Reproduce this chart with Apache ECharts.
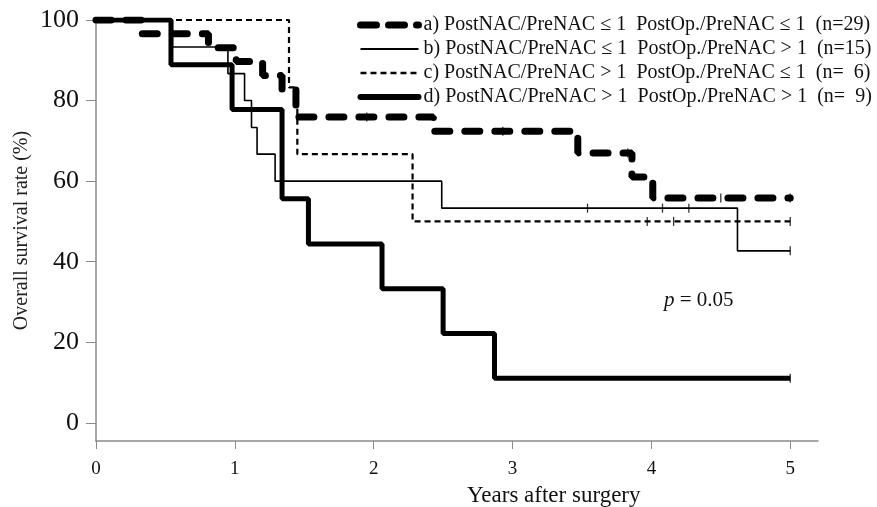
<!DOCTYPE html>
<html>
<head>
<meta charset="utf-8">
<script src="https://cdn.jsdelivr.net/npm/echarts@6/dist/echarts.min.js"></script>
<style>html,body{margin:0;padding:0;background:#fff}#c{width:877px;height:507px}</style>
</head>
<body>
<div id="c"></div>
<script>
// Kaplan-Meier step data (years, survival %)
const namesAll = [
  'a) PostNAC/PreNAC \u2264 1  PostOp./PreNAC \u2264 1  (n=29)',
  'b) PostNAC/PreNAC \u2264 1  PostOp./PreNAC > 1  (n=15)',
  'c) PostNAC/PreNAC > 1  PostOp./PreNAC \u2264 1  (n=  6)',
  'd) PostNAC/PreNAC > 1  PostOp./PreNAC > 1  (n=  9)'
];
const tA = [0, 0.33, 0.81, 1.01, 1.20, 1.34, 1.44, 2.43, 3.47, 3.86, 4.01, 5.0];
const sA = [100, 96.6, 93.1, 89.7, 86.2, 82.8, 75.9, 72.4, 67.0, 61.0, 55.8, 55.8];
const tB = [0, 0.55, 0.95, 1.07, 1.12, 1.16, 1.29, 2.49, 4.62, 5.0];
const sB = [100, 93.3, 86.7, 80.0, 73.3, 66.7, 60.0, 53.3, 42.7, 42.7];
const tC = [0, 1.39, 1.45, 2.28, 5.0];
const sC = [100, 83.3, 66.7, 50.0, 50.0];
const tD = [0, 0.54, 0.98, 1.34, 1.53, 2.06, 2.50, 2.87, 5.0];
const sD = [100, 88.9, 77.8, 55.6, 44.4, 33.3, 22.2, 11.1, 11.1];
// censored observations
const cAt = [1.95, 2.93, 3.83, 4.50, 5.0];
const cAs = [75.9, 72.4, 67.0, 55.8, 55.8];
const cBt = [3.54, 4.08, 4.27, 5.0];
const cBs = [53.3, 53.3, 53.3, 42.7];
const cCt = [3.97, 4.16, 5.0];
const cCs = [50.0, 50.0, 50.0];
const cDt = [5.0];
const cDs = [11.1];
const xTicks = [0, 1, 2, 3, 4, 5];
const yTicks = [0, 20, 40, 60, 80, 100];

const zip = (t, s) => t.map((v, i) => [v, s[i]]);
const FONT = 'Liberation Serif';

const lineStyles = [
  {color: '#000', width: 7, type: [15, 15], cap: 'round'},
  {color: '#000', width: 1.6, type: 'solid'},
  {color: '#000', width: 2.2, type: [6, 4]},
  {color: '#000', width: 5, type: 'solid'}
];
const legendLines = [
  {color: '#000', width: 7, type: [16, 12], cap: 'round', opacity: 1},
  {color: '#000', width: 2, type: 'solid', opacity: 1},
  {color: '#000', width: 2.5, type: [6, 4], opacity: 1},
  {color: '#000', width: 6, type: 'solid', cap: 'round', opacity: 1}
];
const steps = [zip(tA, sA), zip(tB, sB), zip(tC, sC), zip(tD, sD)];
const cens = [zip(cAt, cAs), zip(cBt, cBs), zip(cCt, cCs), zip(cDt, cDs)];

const series = [];
steps.forEach((d, i) => {
  series.push({
    name: namesAll[i], type: 'line', step: 'end', data: d,
    showSymbol: false, symbol: 'none', lineStyle: lineStyles[i],
    itemStyle: {color: '#000'}, z: 3
  });
});
cens.forEach((d, i) => {
  series.push({
    type: 'scatter', data: d, symbol: 'rect', symbolSize: [1.3, 9],
    itemStyle: {color: '#000'}, z: 4, silent: true
  });
});

const chart = echarts.init(document.getElementById('c'), null, {renderer: 'canvas'});
chart.setOption({
  animation: false,
  backgroundColor: '#fff',
  textStyle: {fontFamily: FONT, color: '#000'},
  grid: {left: 96, top: 20, width: 722, height: 421, containLabel: false, outerBoundsMode: 'none'},
  xAxis: {
    type: 'value', min: 0, max: 5.2, interval: 1,
    axisLine: {show: true, onZero: false, lineStyle: {color: '#8a8a8a', width: 1.5}},
    axisTick: {show: true, length: 8, lineStyle: {color: '#8a8a8a'}, customValues: xTicks},
    axisLabel: {fontFamily: FONT, fontSize: 19, color: '#111', margin: 19, customValues: xTicks},
    splitLine: {show: false}
  },
  yAxis: {
    type: 'value', min: -4.5, max: 100,
    name: 'Overall survival rate (%)', nameLocation: 'middle', nameGap: 64, nameMoveOverlap: false,
    nameTextStyle: {fontFamily: FONT, fontSize: 20, color: '#222'},
    axisLine: {show: true, onZero: false, lineStyle: {color: '#8a8a8a', width: 1.5}},
    axisTick: {show: true, length: 10, lineStyle: {color: '#8a8a8a'}, customValues: yTicks},
    axisLabel: {fontFamily: FONT, fontSize: 26, color: '#111', margin: 17, customValues: yTicks},
    splitLine: {show: false}
  },
  legend: {
    data: namesAll.map((n, i) => ({name: n, lineStyle: legendLines[i]})),
    orient: 'vertical', left: 352, top: 10,
    itemWidth: 58, itemHeight: 14, itemGap: 4,
    itemStyle: {opacity: 0},
    textStyle: {fontFamily: FONT, fontSize: 20, color: '#111'},
    selectedMode: false
  },
  title: [
    {text: 'Years after surgery', left: 462, top: 479,
     textStyle: {fontFamily: FONT, fontSize: 23, fontWeight: 'normal', color: '#111'}}
  ],
  graphic: [{
    type: 'text', left: 664, top: 290,
    style: {
      text: '{i|p} = 0.05',
      rich: {i: {fontFamily: FONT, fontStyle: 'italic', fontSize: 21, fill: '#111'}},
      font: '21px "Liberation Serif"', fill: '#111'
    }
  }],
  series: series
});
</script>
</body>
</html>
